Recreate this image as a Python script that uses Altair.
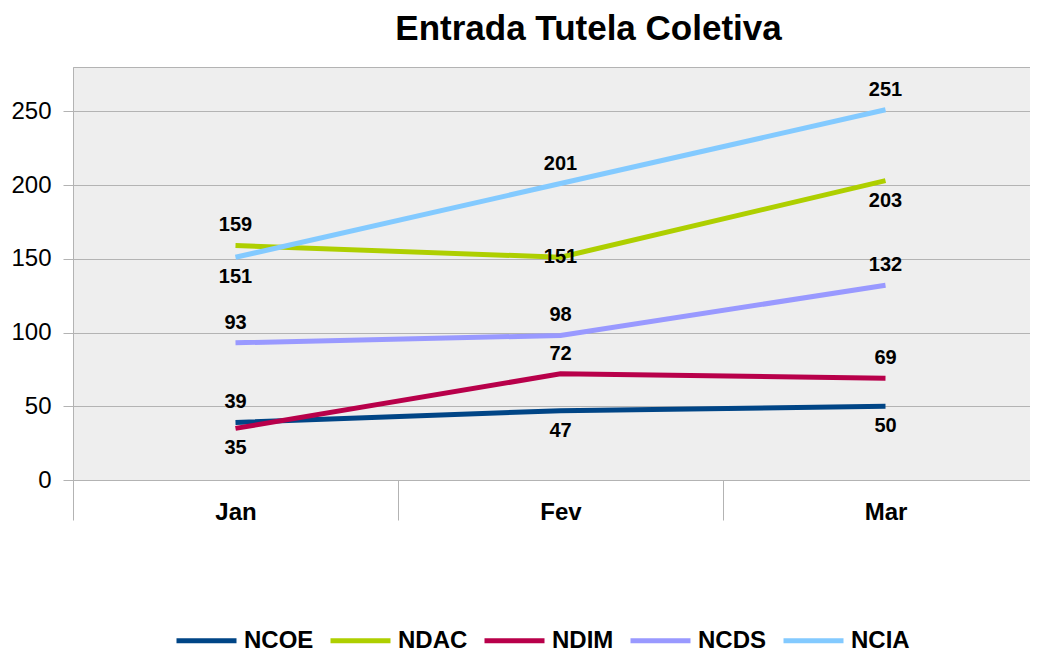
import altair as alt
import pandas as pd

months = ["Jan", "Fev", "Mar"]
series = ["NCOE", "NDAC", "NDIM", "NCDS", "NCIA"]
colors = ["#004586", "#aecf00", "#b8004a", "#9999ff", "#83caff"]

ncoe = [39, 47, 50]
ndac = [159, 151, 203]
ndim = [35, 72, 69]
ncds = [93, 98, 132]
ncia = [151, 201, 251]

# where each data label sits relative to its point
ncoe_side = ["above", "below", "below"]
ndac_side = ["above", "center", "below"]
ndim_side = ["below", "above", "above"]
ncds_side = ["above", "above", "above"]
ncia_side = ["below", "above", "above"]

values = [ncoe, ndac, ndim, ncds, ncia]
sides = [ncoe_side, ndac_side, ndim_side, ncds_side, ncia_side]

rows = []
for s, vals, sd in zip(series, values, sides):
    for m, v, p in zip(months, vals, sd):
        rows.append({"series": s, "month": m, "value": v, "side": p})
df = pd.DataFrame(rows)

FONT = "Liberation Sans"
GRID = "#b3b3b3"

x_enc = alt.X(
    "month:N",
    sort=months,
    bandPosition=0.5,
    scale=alt.Scale(type="band", domain=months, range=[0, 975], paddingInner=0, paddingOuter=0),
    axis=alt.Axis(
        title=None,
        labelAngle=0,
        labelFont=FONT,
        labelFontSize=24,
        labelFontWeight="bold",
        labelColor="black",
        tickBand="extent",
        tickSize=40,
        tickColor=GRID,
        domainColor=GRID,
        labelPadding=-20,
        grid=False,
    ),
)
y_enc = alt.Y(
    "value:Q",
    scale=alt.Scale(domain=[0, 280], nice=False, zero=True),
    axis=alt.Axis(
        title=None,
        values=[0, 50, 100, 150, 200, 250],
        labelFont=FONT,
        labelFontSize=24,
        labelColor="black",
        tickSize=10,
        tickColor=GRID,
        domainColor=GRID,
        gridColor=GRID,
        labelPadding=12,
    ),
)
color_enc = alt.Color(
    "series:N",
    sort=series,
    scale=alt.Scale(domain=series, range=colors),
    legend=alt.Legend(
        title=None,
        orient="none",
        legendX=101,
        legendY=541,
        direction="horizontal",
        symbolType="stroke",
        symbolSize=3600,
        symbolStrokeWidth=5,
        labelFont=FONT,
        labelFontSize=24,
        labelFontWeight="bold",
        labelColor="black",
        labelOffset=5,
        columnPadding=6,
    ),
)

base = alt.Chart(df).encode(x=x_enc, y=y_enc)

lines = base.mark_line(strokeWidth=5).encode(color=color_enc, detail="series:N")


def labels(side, dy):
    return (
        base.transform_filter(alt.datum.side == side)
        .mark_text(dy=dy, font=FONT, fontSize=20, fontWeight="bold", color="black", baseline="middle")
        .encode(text="value:Q")
    )


chart = (
    alt.layer(lines, labels("above", -20), labels("below", 20), labels("center", 0))
    .properties(
        width=957,
        height=413,
        title=alt.TitleParams(
            "Entrada Tutela Coletiva",
            font=FONT,
            fontSize=35,
            fontWeight="bold",
            color="black",
            anchor="middle",
            frame="group",
            dx=37,
            dy=35,
            offset=27,
            baseline="alphabetic",
        ),
        autosize=alt.AutoSizeParams(type="none"),
        padding={"left": 65, "top": 59, "right": 0, "bottom": 174},
    )
    .configure_view(fill="#eeeeee", stroke=GRID, strokeWidth=1)
)

chart.save("out.html", embed_options={"renderer": "svg", "actions": False})
